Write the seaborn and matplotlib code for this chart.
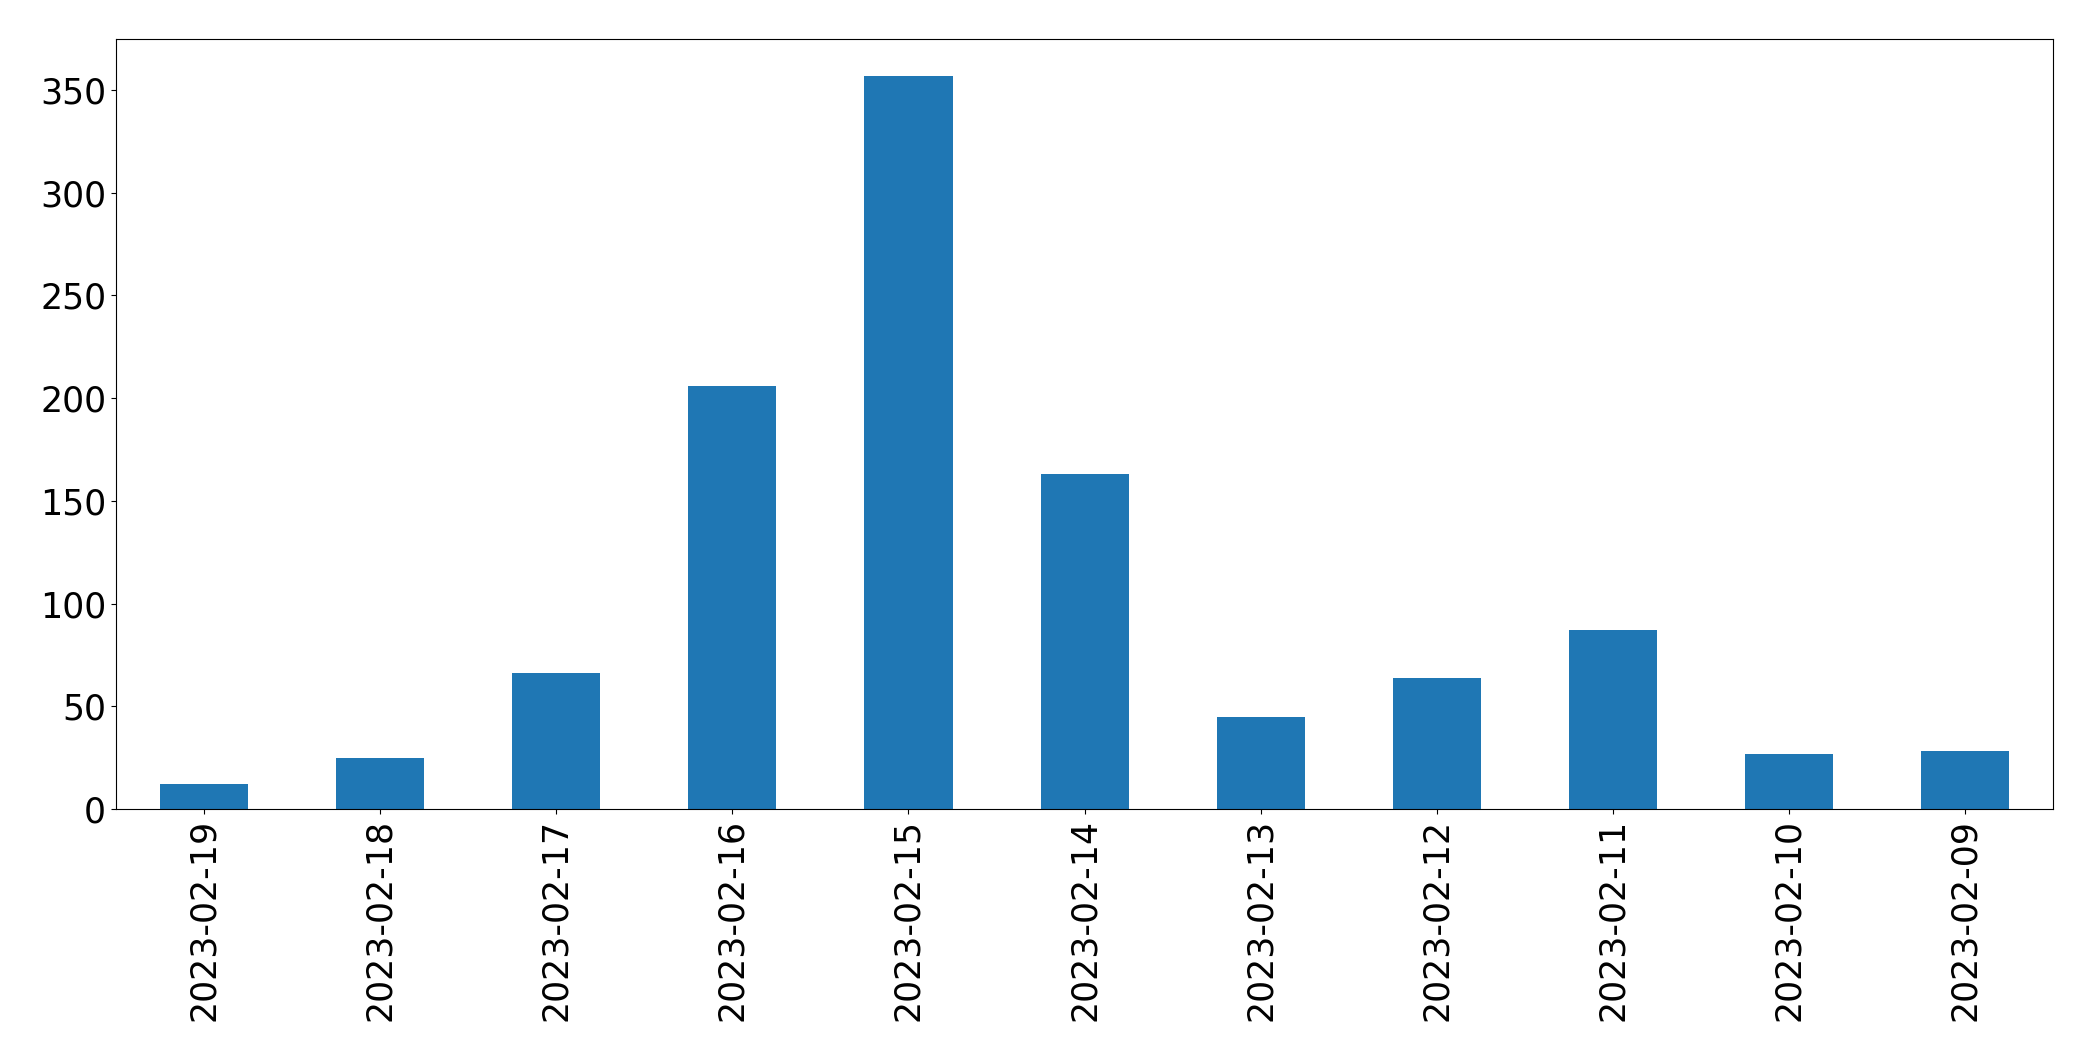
import matplotlib
matplotlib.use("Agg")
import matplotlib.pyplot as plt
import seaborn as sns
import pandas as pd

dates = ["2023-02-19", "2023-02-18", "2023-02-17", "2023-02-16", "2023-02-15",
         "2023-02-14", "2023-02-13", "2023-02-12", "2023-02-11", "2023-02-10",
         "2023-02-09"]
counts = [12, 25, 66, 206, 357, 163, 45, 64, 87, 27, 28]

df = pd.DataFrame({"date": dates, "count": counts})

fig, ax = plt.subplots(figsize=(20.93, 10.61), dpi=100)
sns.barplot(data=df, x="date", y="count", order=dates, color="#1f77b4",
            saturation=1, width=0.5, linewidth=0, ax=ax)
ax.set_xlabel("")
ax.set_ylabel("")
ax.set_xlim(-0.5, len(dates) - 0.5)
ax.set_ylim(0, max(counts) * 1.05)
ax.tick_params(axis="x", labelrotation=90, labelsize=25)
ax.tick_params(axis="y", labelsize=25)
fig.subplots_adjust(left=0.0554, right=0.981, top=0.9632, bottom=0.2375)
fig.savefig("out.png", dpi=100)
